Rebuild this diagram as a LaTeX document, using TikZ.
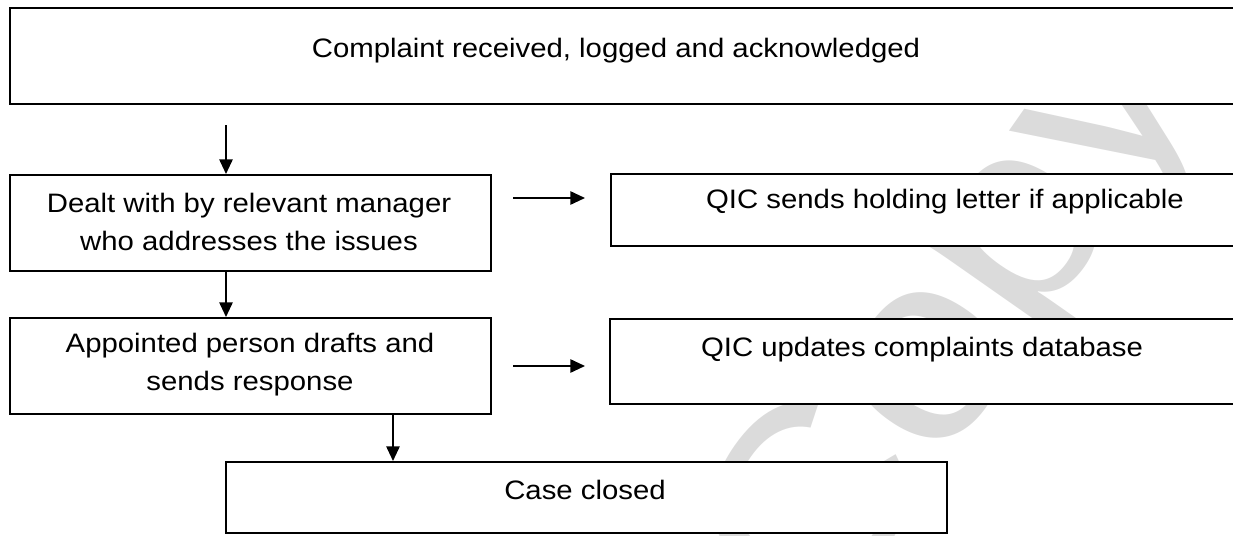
\documentclass[tikz,border=0pt]{standalone}
\usepackage{fontspec}
\setmainfont{Liberation Sans}[FakeStretch=1.1]
\usetikzlibrary{arrows.meta}

\begin{document}
\begin{tikzpicture}[x=0.75pt,y=0.75pt,yscale=-1,xscale=1,
  box/.style={draw, line width=1.4pt, fill=white, inner sep=0pt, anchor=north west},
  txt/.style={inner sep=0pt, align=center, font=\fontsize{20pt}{28.5pt}\selectfont},
  flow/.style={line width=1.3pt, -{Triangle[length=11pt,width=10pt]}}]
\clip (0,0) rectangle (1233,536);

%Watermark
\node [rotate=55, text=black!14, font=\fontsize{195pt}{195pt}\selectfont] (wmark) at (960,330) {Copy};

%Shape: Rectangle [recv]
\node [box, minimum width=923.5pt, minimum height=72pt] (recv) at (8.7,7) {};
%Shape: Rectangle [dealt]
\node [box, minimum width=361pt, minimum height=72pt] (dealt) at (8.7,174) {};
%Shape: Rectangle [hold]
\node [box, minimum width=510pt, minimum height=54pt] (hold) at (610,173) {};
%Shape: Rectangle [appt]
\node [box, minimum width=361pt, minimum height=72pt] (appt) at (8.7,317) {};
%Shape: Rectangle [update]
\node [box, minimum width=511pt, minimum height=63.75pt] (update) at (609,318) {};
%Shape: Rectangle [closed]
\node [box, minimum width=540.75pt, minimum height=53.25pt] (closed) at (225,461) {};

%Straight Lines
\coordinate (down1) at (226,125);
\coordinate (down5) at (393,413);
\draw [flow] (down1) -- (down1 |- dealt.north);
\draw [flow] (dealt.south -| down1) -- (appt.north -| down1);
\draw [flow] (appt.south -| down5) -- (closed.north -| down5);
%Straight Lines
\coordinate (side1a) at (513,198);
\coordinate (side1b) at (585,198);
\draw [flow] (side1a) -- (side1b);
\coordinate (side2a) at (513,366);
\coordinate (side2b) at (585,366);
\draw [flow] (side2a) -- (side2b);

% Text Node
\node [txt] (recvtxt) at (616,51) {Complaint received, logged and acknowledged};
% Text Node
\node [txt] (dealttxt) at (249,221.5) {Dealt with by relevant manager\\who addresses the issues};
% Text Node
\node [txt] (holdtxt) at (945,202) {QIC sends holding letter if applicable};
% Text Node
\node [txt] (appttxt) at (250,365) {Appointed person drafts and\\sends response};
% Text Node
\node [txt] (updatetxt) at (922,350) {QIC updates complaints database};
% Text Node
\node [txt] (closedtxt) at (585,490) {Case closed};

\end{tikzpicture}
\end{document}
